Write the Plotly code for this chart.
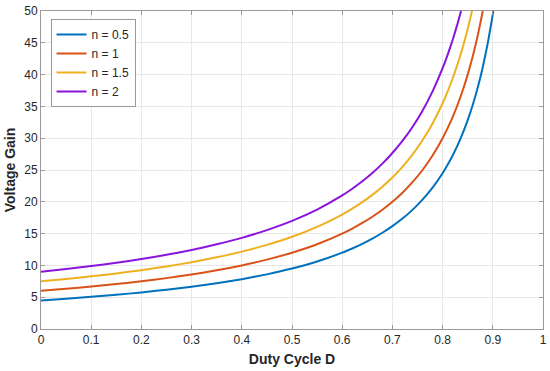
import plotly.graph_objects as go

duty = [0, 0.05, 0.1, 0.15, 0.2, 0.25, 0.3, 0.35, 0.4, 0.45, 0.5, 0.55, 0.6,
        0.62, 0.64, 0.66, 0.68, 0.7, 0.72, 0.74, 0.76, 0.78, 0.8,
        0.81, 0.82, 0.83, 0.84, 0.85, 0.86, 0.87, 0.88, 0.89, 0.9, 0.91, 0.92]

gain_n05 = [4.5, 4.76, 5.06, 5.38, 5.75, 6.17, 6.64, 7.19, 7.83, 8.59, 9.5, 10.61, 12.0,
            12.66, 13.39, 14.21, 15.13, 16.17, 17.36, 18.73, 20.33, 22.23, 24.5,
            25.82, 27.28, 28.91, 30.75, 32.83, 35.21, 37.96, 41.17, 44.95, 49.5, 55.06, 62.0]
gain_n1 = [6.0, 6.32, 6.67, 7.06, 7.5, 8.0, 8.57, 9.23, 10.0, 10.91, 12.0, 13.33, 15.0,
           15.79, 16.67, 17.65, 18.75, 20.0, 21.43, 23.08, 25.0, 27.27, 30.0,
           31.58, 33.33, 35.29, 37.5, 40.0, 42.86, 46.15, 50.0, 54.55, 60.0, 66.67, 75.0]
gain_n15 = [7.5, 7.87, 8.28, 8.74, 9.25, 9.83, 10.5, 11.27, 12.17, 13.23, 14.5, 16.06, 18.0,
            18.92, 19.94, 21.09, 22.38, 23.83, 25.5, 27.42, 29.67, 32.32, 35.5,
            37.34, 39.39, 41.68, 44.25, 47.17, 50.5, 54.35, 58.8, 64.1, 70.5, 78.3, 88.0]
gain_n2 = [9.0, 9.42, 9.89, 10.41, 11.0, 11.67, 12.43, 13.31, 14.33, 15.55, 17.0, 18.78, 21.0,
           22.05, 23.22, 24.53, 26.0, 27.67, 29.57, 31.77, 34.33, 37.36, 41.0,
           43.1, 45.44, 48.06, 51.0, 54.33, 58.1, 62.5, 67.7, 73.7, 81.0, 89.9, 101.0]

names = ["n = 0.5", "n = 1", "n = 1.5", "n = 2"]
series = [gain_n05, gain_n1, gain_n15, gain_n2]
colors = ["#0072BD", "#D95319", "#EDB120", "#8B14DC"]

x_ticks = [0, 0.1, 0.2, 0.3, 0.4, 0.5, 0.6, 0.7, 0.8, 0.9, 1]
x_labels = ["0", "0.1", "0.2", "0.3", "0.4", "0.5", "0.6", "0.7", "0.8", "0.9", "1"]
y_ticks = [0, 5, 10, 15, 20, 25, 30, 35, 40, 45, 50]

FONT = "Liberation Sans, Arial"

fig = go.Figure()
for name, vals, col in zip(names, series, colors):
    fig.add_trace(go.Scatter(x=duty, y=vals, mode="lines", name=name,
                             line=dict(color=col, width=2, shape="spline", smoothing=0.5)))

axis_common = dict(showline=True, linecolor="#9a9a9a", linewidth=1, mirror="ticks",
                   ticks="inside", ticklen=4, tickcolor="#9a9a9a",
                   showgrid=True, gridcolor="#e8e8e8", gridwidth=1, zeroline=False,
                   automargin=False,
                   tickfont=dict(family=FONT, size=12, color="#262626"))

fig.update_xaxes(range=[0, 1.00001], tickvals=x_ticks, ticktext=x_labels,
                 title=dict(text="<b>Duty Cycle D</b>", standoff=7,
                            font=dict(family=FONT, size=14, color="#262626")),
                 **axis_common)
fig.update_yaxes(range=[0, 50.00001], tickvals=y_ticks,
                 title=dict(text="<b>Voltage Gain</b>", standoff=5,
                            font=dict(family=FONT, size=14, color="#262626")),
                 **axis_common)

fig.update_layout(
    width=550, height=371,
    margin=dict(l=41, r=7, t=11, b=42),
    paper_bgcolor="white", plot_bgcolor="white",
    legend=dict(x=0.019, y=0.975, xanchor="left", yanchor="top",
                bgcolor="white", bordercolor="#9a9a9a", borderwidth=1,
                font=dict(family=FONT, size=12, color="#262626"),
                tracegroupgap=0, itemwidth=30),
    showlegend=True,
)

fig.write_html("out.html", config={"displayModeBar": False},
               post_script="document.body.style.margin='0';")
